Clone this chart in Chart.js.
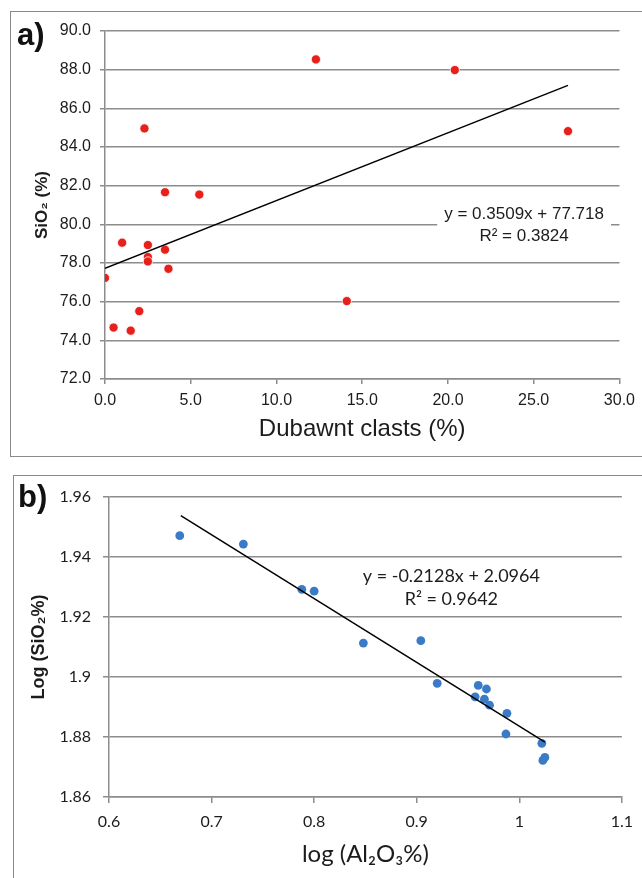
<!DOCTYPE html>
<html>
<head>
<meta charset="utf-8">
<script src="https://cdn.jsdelivr.net/npm/chart.js@4.4.0/dist/chart.umd.min.js"></script>
<style>
  html, body { margin: 0; padding: 0; background: #fff; width: 642px; height: 878px; overflow: hidden; }
  .frame { position: absolute; border: 1.5px solid #8a8a8a; }
  #frameA { left: 10px; top: 11px; width: 700px; height: 444px; }
  #frameB { left: 13px; top: 475px; width: 700px; height: 500px; }
  .tag { position: absolute; font: bold 31px "Liberation Sans", Arial, sans-serif; color: #111; line-height: 1; }
  canvas { position: absolute; left: 0; }
</style>
</head>
<body>
<div class="frame" id="frameA"></div>
<div class="frame" id="frameB"></div>
<canvas id="chartA" width="642" height="458" style="top:0px"></canvas>
<canvas id="chartB" width="642" height="418" style="top:460px"></canvas>
<div class="tag" style="left:17px; top:19px;">a)</div>
<div class="tag" style="left:18px; top:481px;">b)</div>

<script>
// panel a: Dubawnt clasts vs SiO2
var clastsPct = [12.3, 20.4, 2.3, 27.0, 3.5, 5.5, 1.0, 2.5, 3.5, 2.5, 2.5, 3.7, 0.0, 14.1, 2.0, 0.5, 1.5];
var sio2Pct = [88.53, 87.98, 84.96, 84.82, 81.66, 81.54, 79.05, 78.93, 78.69, 78.31, 78.08, 77.70, 77.23, 76.03, 75.51, 74.66, 74.50];
var trendAX = [0, 27.0];
var trendAY = [77.72, 87.19];
var ticksAX = [0, 5, 10, 15, 20, 25, 30];
var ticksAY = [72, 74, 76, 78, 80, 82, 84, 86, 88, 90];
var eqA = ['y = 0.3509x + 77.718', 'R\u00b2 = 0.3824'];

// panel b: log Al2O3 vs log SiO2
var logAl2O3 = [0.669, 0.731, 0.788, 0.800, 0.848, 0.904, 0.920, 0.960, 0.968, 0.957, 0.966, 0.971, 0.988, 0.987, 1.022, 1.023, 1.025];
var logSiO2 = [1.9471, 1.9443, 1.9292, 1.9286, 1.9113, 1.9121, 1.8979, 1.8972, 1.8960, 1.8934, 1.8926, 1.8906, 1.8879, 1.8810, 1.8779, 1.8722, 1.8732];
var trendBX = [0.67, 1.025];
var trendBY = [1.9538, 1.8783];
var ticksBX = [0.6, 0.7, 0.8, 0.9, 1, 1.1];
var ticksBY = [1.86, 1.88, 1.9, 1.92, 1.94, 1.96];
var eqB = ['y = -0.2128x + 2.0964', 'R\u00b2 = 0.9642'];

function pts(xs, ys) {
    return xs.map(function (x, i) { return { x: x, y: ys[i] }; });
}

var gridGrey = '#8c8c8c';
var textCol = '#1c1c1c';
var arial = '"Liberation Sans", Arial, Helvetica, sans-serif';
var calib = 'Lato, "Open Sans", sans-serif';

// trendline equation text, anchored in data coordinates
var eqLabel = {
    id: 'eqLabel',
    afterDatasetsDraw: function (chart, args, opts) {
        var ctx = chart.ctx;
        var cx = chart.scales.x.getPixelForValue(opts.x);
        var cy = chart.scales.y.getPixelForValue(opts.y);
        ctx.save();
        ctx.font = opts.font;
        ctx.textAlign = 'center';
        ctx.textBaseline = 'middle';
        if (opts.bg) {
            var w = 0;
            opts.lines.forEach(function (t) { w = Math.max(w, ctx.measureText(t).width); });
            ctx.fillStyle = '#fff';
            ctx.fillRect(cx - w / 2 - 7, cy - 11, w + 14, opts.gap * (opts.lines.length - 1) + 22);
        }
        ctx.fillStyle = textCol;
        opts.lines.forEach(function (t, i) { ctx.fillText(t, cx, cy + i * opts.gap); });
        ctx.restore();
    }
};

Chart.register(eqLabel);

new Chart(document.getElementById('chartA').getContext('2d'), {
    type: 'scatter',
    data: {
        datasets: [{
            data: pts(trendAX, trendAY),
            showLine: true,
            borderColor: '#000',
            borderWidth: 1.5,
            pointRadius: 0
        }, {
            data: pts(clastsPct, sio2Pct),
            backgroundColor: '#e8201c',
            borderColor: '#ffffff',
            borderWidth: 0.8,
            pointRadius: 4.6
        }]
    },
    options: {
        responsive: false,
        animation: false,
        layout: { padding: { left: 28, right: 22, top: 31, bottom: 10 } },
        plugins: {
            legend: { display: false },
            tooltip: { enabled: false },
            eqLabel: { lines: eqA, x: 24.44, y: 80.53, gap: 22, bg: true, font: '17px ' + arial }
        },
        scales: {
            x: {
                type: 'linear', min: 0, max: 30,
                afterBuildTicks: function (s) { s.ticks = ticksAX.map(function (v) { return { value: v }; }); },
                afterFit: function (s) { s.height = 69; },
                ticks: { padding: 7, color: textCol, font: { family: arial, size: 16 }, maxRotation: 0,
                    callback: function (v) { return v.toFixed(1); } },
                grid: { drawOnChartArea: false, tickLength: 5, color: gridGrey, lineWidth: 1.5 },
                border: { color: gridGrey, width: 1.5 },
                title: { display: true, text: 'Dubawnt clasts (%)', color: textCol,
                    font: { family: arial, size: 24 }, padding: { top: 0, bottom: 4 } }
            },
            y: {
                min: 72, max: 90,
                afterBuildTicks: function (s) { s.ticks = ticksAY.map(function (v) { return { value: v }; }); },
                afterFit: function (s) { s.width = 77; },
                ticks: { padding: 9, color: textCol, font: { family: arial, size: 16 },
                    callback: function (v) { return v.toFixed(1); } },
                grid: { tickLength: 5, color: gridGrey, lineWidth: 1.5 },
                border: { color: gridGrey, width: 1.5 },
                title: { display: true, text: 'SiO\u2082 (%)', color: textCol,
                    font: { family: arial, size: 17, weight: 'bold' } }
            }
        }
    }
});

new Chart(document.getElementById('chartB').getContext('2d'), {
    type: 'scatter',
    data: {
        datasets: [{
            data: pts(trendBX, trendBY),
            showLine: true,
            borderColor: '#000',
            borderWidth: 1.5,
            pointRadius: 0
        }, {
            data: pts(logAl2O3, logSiO2),
            backgroundColor: '#3a7bc8',
            borderWidth: 0,
            pointRadius: 4.4
        }]
    },
    options: {
        responsive: false,
        animation: false,
        layout: { padding: { left: 24, right: 19, top: 37, bottom: 5 } },
        plugins: {
            legend: { display: false },
            tooltip: { enabled: false },
            eqLabel: { lines: eqB, x: 0.9338, y: 1.9335, gap: 22.3, bg: false, font: '18px ' + calib }
        },
        scales: {
            x: {
                type: 'linear', min: 0.6, max: 1.1,
                afterBuildTicks: function (s) { s.ticks = ticksBX.map(function (v) { return { value: v }; }); },
                afterFit: function (s) { s.height = 76; },
                ticks: { padding: 9, color: textCol, font: { family: calib, size: 16 }, maxRotation: 0,
                    callback: function (v) { return String(parseFloat(v.toFixed(2))); } },
                grid: { drawOnChartArea: false, tickLength: 6, color: gridGrey, lineWidth: 1.5 },
                border: { color: gridGrey, width: 1.5 },
                title: { display: true, text: 'log (Al\u2082O\u2083%)', color: textCol,
                    font: { family: calib, size: 24 }, padding: { top: 0, bottom: 4 } }
            },
            y: {
                min: 1.86, max: 1.96,
                afterBuildTicks: function (s) { s.ticks = ticksBY.map(function (v) { return { value: v }; }); },
                afterFit: function (s) { s.width = 85; },
                ticks: { padding: 12, color: textCol, font: { family: calib, size: 16 },
                    callback: function (v) { return String(parseFloat(v.toFixed(2))); } },
                grid: { tickLength: 6, color: gridGrey, lineWidth: 1.5 },
                border: { color: gridGrey, width: 1.5 },
                title: { display: true, text: 'Log (SiO\u2082%)', color: textCol,
                    font: { family: arial, size: 18, weight: 'bold' } }
            }
        }
    }
});
</script>
</body>
</html>
